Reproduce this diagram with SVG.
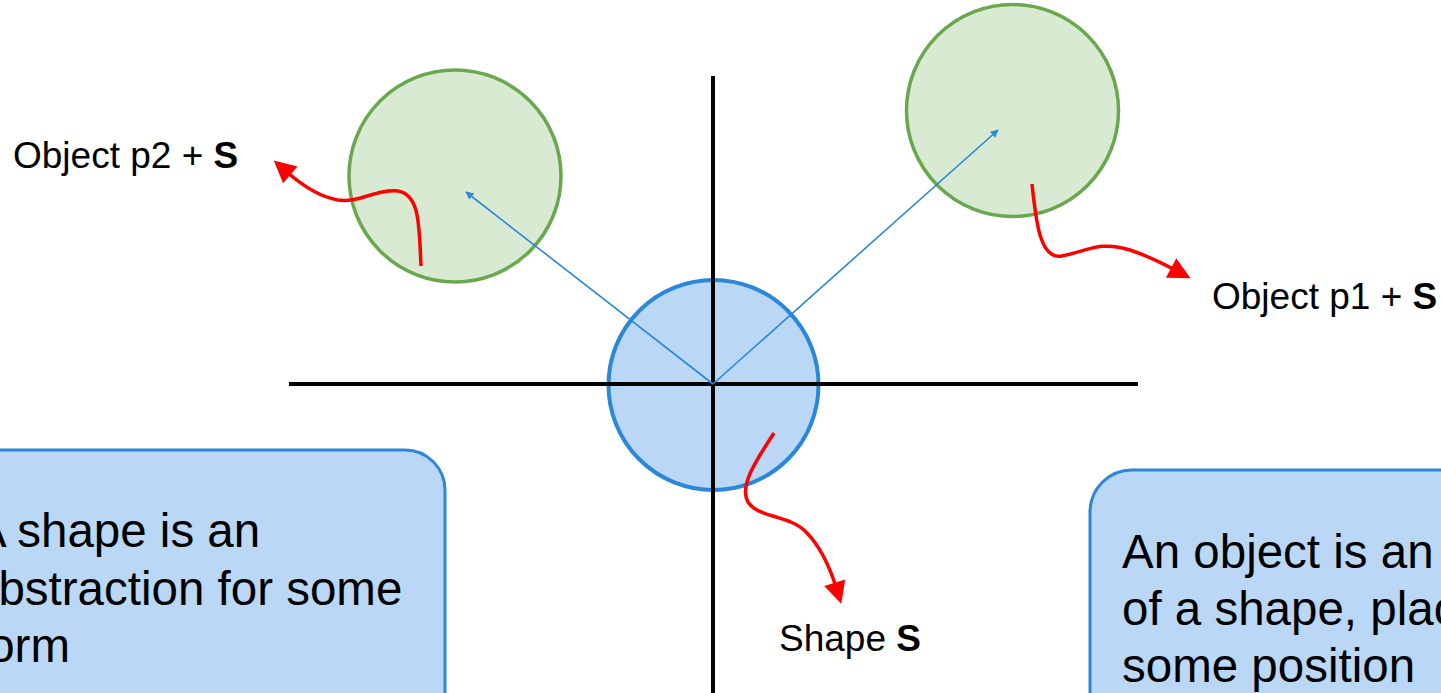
<svg xmlns="http://www.w3.org/2000/svg" width="1441" height="693" viewBox="0 0 1441 693">
<style>
.txt{font-family:"Liberation Sans",Arial,sans-serif;fill:#000}
.lbl{font-size:37px}
.big{font-size:47.5px}
.b{font-weight:bold}
.green{fill:#d9ead3;stroke:#6aa84f;stroke-width:3.5}
.blue{fill:#bad7f5;stroke:#2a87d9;stroke-width:4}
.box{fill:#bad7f5;stroke:#2a87d9;stroke-width:3}
.axis{stroke:#000;stroke-width:4;fill:none}
.vec{stroke:#2a87d9;stroke-width:1.6;fill:none;marker-end:url(#bh)}
.red{stroke:#ff0000;stroke-width:3.5;fill:none;marker-end:url(#rh)}
</style>
<defs>
<marker id="bh" viewBox="0 0 10 10" refX="9" refY="5" markerWidth="9" markerHeight="8" markerUnits="userSpaceOnUse" orient="auto"><path d="M0,0 L10,5 L0,10 z" fill="#2a87d9"/></marker>
<marker id="rh" viewBox="0 0 10 10" refX="2" refY="5" markerWidth="26" markerHeight="22" markerUnits="userSpaceOnUse" orient="auto"><path d="M0,0 L10,5 L0,10 z" fill="#ff0000"/></marker>
</defs>
<rect width="1441" height="693" fill="#fff"/>
<g id="box-shape">
<rect class="box" x="-40" y="450" width="485" height="300" rx="40"/>
<text class="txt big" x="-25" y="547">A shape is an</text>
<text class="txt big" x="-28" y="605">abstraction for some</text>
<text class="txt big" x="-25" y="662">form</text>
</g>
<g id="box-object">
<rect class="box" x="1090" y="470" width="400" height="300" rx="42"/>
<text class="txt big" x="1122" y="568">An object is an</text>
<text class="txt big" x="1122" y="625">of a shape, placed</text>
<text class="txt big" x="1122" y="682">some position</text>
</g>
<g id="object-p2"><circle class="green" cx="455" cy="176" r="106"/></g>
<g id="object-p1"><circle class="green" cx="1012.5" cy="110.5" r="106"/></g>
<g id="shape-s"><circle class="blue" cx="713.5" cy="385" r="105"/></g>
<g id="axes">
<line class="axis" x1="713" y1="76" x2="713" y2="693"/>
<line class="axis" x1="289" y1="384" x2="1138" y2="384"/>
</g>
<g id="connectors">
<line class="vec" x1="713" y1="384" x2="466" y2="192"/>
<line class="vec" x1="713" y1="384" x2="998" y2="130"/>
<path class="red" d="M421,266 C419,225 420,195 398,191 C375,189 360,203 338,200 C320,197 303,186 287,172"/>
<path class="red" d="M1032,184 C1036,222 1040,260 1062,256 C1085,252 1100,240 1130,250 C1145,255 1160,262 1175,270"/>
<path class="red" d="M774,433 C760,455 738,485 748,502 C758,518 790,515 806,532 C820,546 830,568 836,587"/>
</g>
<g id="labels">
<text class="txt lbl" x="13" y="168">Object p2 + <tspan class="b">S</tspan></text>
<text class="txt lbl" x="1212" y="309">Object p1 + <tspan class="b">S</tspan></text>
<text class="txt lbl" x="779" y="651">Shape <tspan class="b">S</tspan></text>
</g>
</svg>
